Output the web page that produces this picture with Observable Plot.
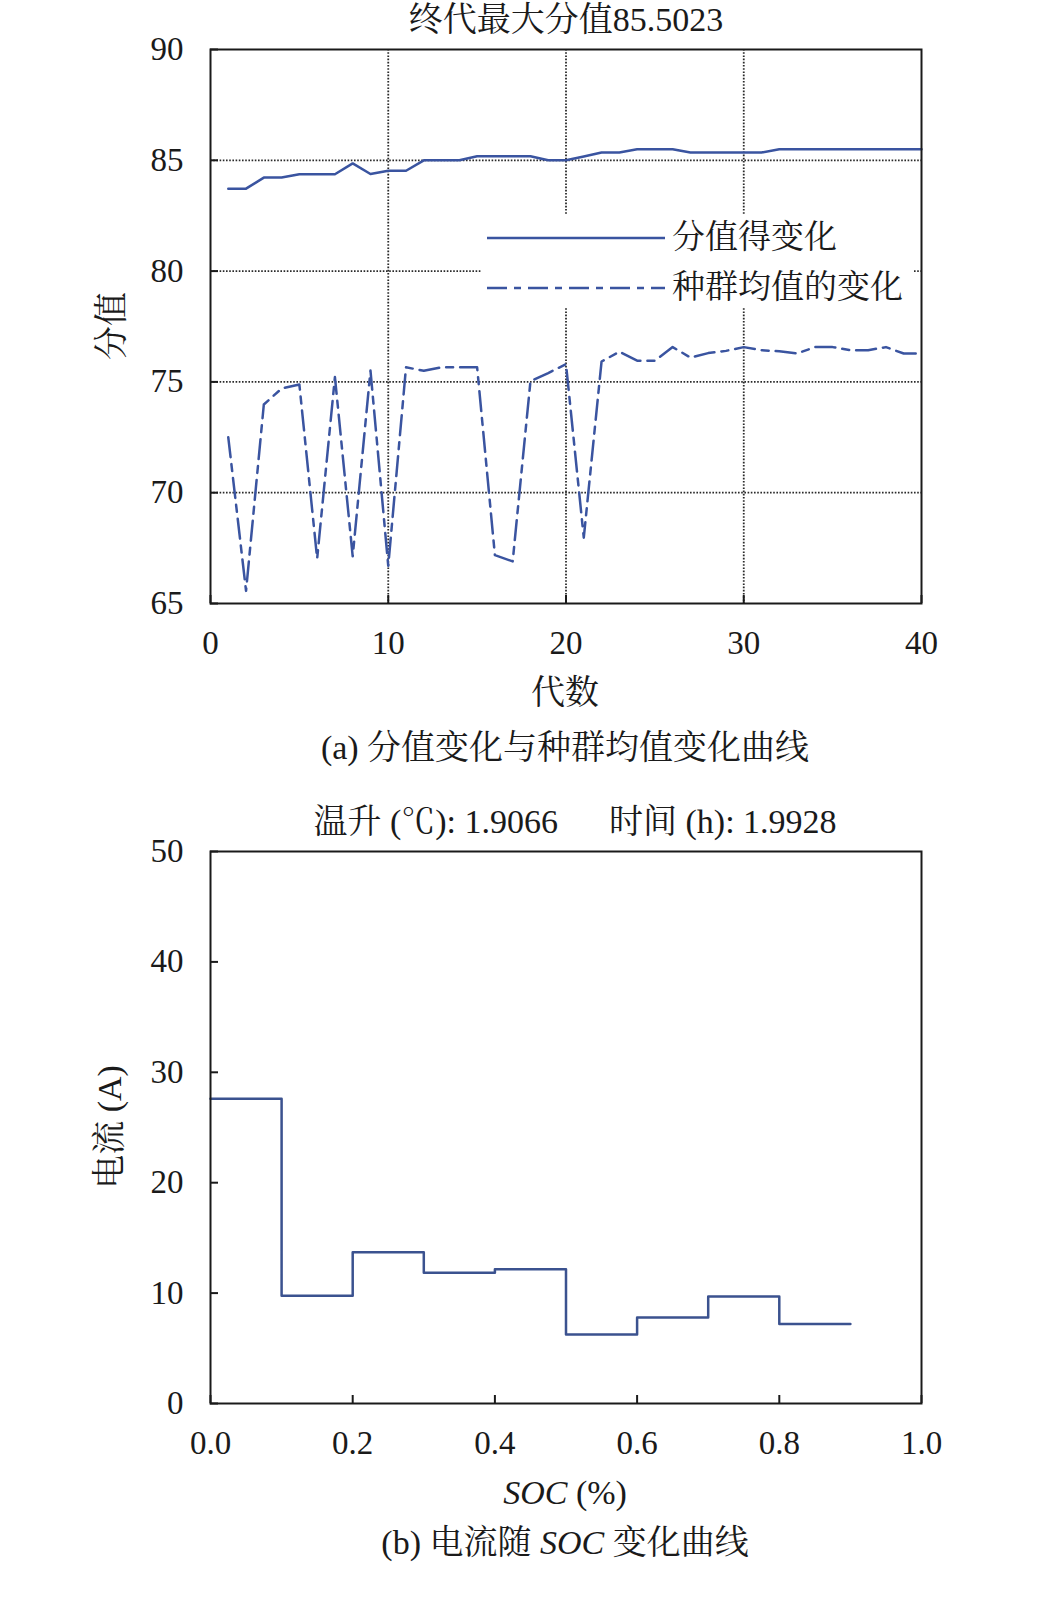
<!DOCTYPE html>
<html>
<head>
<meta charset="utf-8">
<script src="https://cdn.jsdelivr.net/npm/d3@7"></script>
<script src="https://cdn.jsdelivr.net/npm/@observablehq/plot@0.6"></script>
<style>
  html, body { margin: 0; padding: 0; background: white; }
  body { width: 1056px; height: 1600px; position: relative; overflow: hidden;
         font-family: "Liberation Serif", "Noto Serif CJK SC", "Noto Sans CJK SC", serif; color: #1a1a1a; }
  .t { position: absolute; white-space: nowrap; font-size: 34px; line-height: 1; transform: translate(-50%, -50%); }
  .rot { transform: translate(-50%, -50%) rotate(-90deg); }
  .chart { position: absolute; left: 0; }
  #legend { position: absolute; left: 482px; top: 215px; width: 431px; height: 92px; background: white; }
  #legend svg { position: absolute; left: 0; top: 0; }
  #legend .lt { position: absolute; font-size: 33px; line-height: 1; white-space: nowrap; transform: translateY(-50%); }
</style>
</head>
<body>
<div class="t" style="left:566px; top:20px;">终代最大分值85.5023</div>
<div id="c1" class="chart" style="top:0px;"></div>
<div class="t rot" style="left:112px; top:326px;">分值</div>
<div class="t" style="left:565px; top:693px;">代数</div>
<div class="t" style="left:565px; top:748px;">(a) 分值变化与种群均值变化曲线</div>

<div id="legend">
  <svg width="431" height="92">
    <line x1="5" y1="23" x2="183" y2="23" stroke="#3a54a0" stroke-width="2.5"/>
    <line x1="5" y1="73" x2="183" y2="73" stroke="#3a54a0" stroke-width="2.5" stroke-dasharray="20,7,7,7"/>
  </svg>
  <div class="lt" style="left:190px; top:22px;">分值得变化</div>
  <div class="lt" style="left:190px; top:72px;">种群均值的变化</div>
</div>

<div class="t" style="left:575px; top:822px;">温升 (℃): 1.9066&nbsp;&nbsp;&nbsp;&nbsp;&nbsp;&nbsp;时间 (h): 1.9928</div>
<div id="c2" class="chart" style="top:800px;"></div>
<div class="t rot" style="left:110px; top:1127px;">电流 (A)</div>
<div class="t" style="left:565px; top:1493px;"><i>SOC</i> (%)</div>
<div class="t" style="left:565px; top:1543px;">(b) 电流随 <i>SOC</i> 变化曲线</div>

<script>
// ---- Chart (a) data ----
const generations = d3.range(1, 41);
const bestScore = [83.72, 83.72, 84.22, 84.22, 84.37, 84.37, 84.37, 84.86, 84.38, 84.53,
                   84.53, 85.0, 85.0, 85.0, 85.18, 85.18, 85.18, 85.18, 85.0, 85.0,
                   85.17, 85.35, 85.35, 85.5, 85.5, 85.5, 85.35, 85.35, 85.35, 85.35,
                   85.35, 85.5023, 85.5023, 85.5023, 85.5023, 85.5023, 85.5023, 85.5023, 85.5023, 85.5023];
const meanScore = [72.5, 65.57, 73.98, 74.7, 74.88, 67.03, 75.22, 67.13, 75.51, 66.7,
                   75.66, 75.5, 75.66, 75.66, 75.66, 67.18, 66.9, 75.03, 75.4, 75.8,
                   67.97, 75.92, 76.36, 75.96, 75.96, 76.57, 76.1, 76.3, 76.4, 76.57,
                   76.43, 76.38, 76.28, 76.57, 76.57, 76.43, 76.43, 76.57, 76.28, 76.28];
const xTicksA = [0, 10, 20, 30, 40];
const yTicksA = [65, 70, 75, 80, 85, 90];
const xGridA = [10, 20, 30];
const yGridA = [70, 75, 80, 85];

// ---- Chart (b) data ----
const socEdges = [0, 0.1, 0.2, 0.3, 0.4, 0.5, 0.6, 0.7, 0.8, 0.9];
const current = [27.6, 9.75, 13.7, 11.85, 12.15, 6.25, 7.8, 9.7, 7.2];
const xTicksB = [0, 0.2, 0.4, 0.6, 0.8, 1.0];
const yTicksB = [0, 10, 20, 30, 40, 50];

const blue = "#3a54a0";
const font = "'Liberation Serif', 'Noto Serif CJK SC', 'Noto Sans CJK SC', serif";

const rowsA = generations.map((g, i) => ({g, best: bestScore[i], mean: meanScore[i]}));
const rowsB = socEdges.map((s, i) => ({s, c: current[Math.min(i, current.length - 1)]}));

const gridStyle = {stroke: "#2a2a2a", strokeOpacity: 1, strokeWidth: 1.8, strokeDasharray: "1.6,1.6"};

const chartA = Plot.plot({
  width: 1056, height: 720,
  marginTop: 49, marginBottom: 117, marginLeft: 210, marginRight: 135,
  style: {fontFamily: font, color: "#1a1a1a", background: "transparent", overflow: "visible"},
  x: {domain: [0, 40], label: null},
  y: {domain: [65, 90], label: null},
  marks: [
    Plot.gridY(yGridA, gridStyle),
    Plot.gridX(xGridA, gridStyle),
    Plot.line(rowsA, {x: "g", y: "best", stroke: blue, strokeWidth: 2.5}),
    Plot.line(rowsA, {x: "g", y: "mean", stroke: blue, strokeWidth: 2.5, strokeDasharray: "20,7,7,7"}),
    Plot.axisY({ticks: yTicksA, tickSize: -8, tickPadding: 35, fontSize: 33, strokeWidth: 2, label: null}),
    Plot.axisX({ticks: xTicksA, tickSize: -8, tickPadding: 35, fontSize: 33, strokeWidth: 2, label: null}),
    Plot.frame({stroke: "#1a1a1a", strokeWidth: 2})
  ]
});
document.getElementById("c1").appendChild(chartA);

const chartB = Plot.plot({
  width: 1056, height: 670,
  marginTop: 51, marginBottom: 67, marginLeft: 210, marginRight: 135,
  style: {fontFamily: font, color: "#1a1a1a", background: "transparent", overflow: "visible"},
  x: {domain: [0, 1], label: null},
  y: {domain: [0, 50], label: null},
  marks: [
    Plot.line(rowsB, {x: "s", y: "c", curve: "step-after", stroke: "#3b528f", strokeWidth: 2.5}),
    Plot.axisY({ticks: yTicksB, tickSize: -8, tickPadding: 35, fontSize: 33, strokeWidth: 2, label: null}),
    Plot.axisX({ticks: xTicksB, tickSize: -8, tickPadding: 35, fontSize: 33, strokeWidth: 2, tickFormat: d3.format(".1f"), label: null}),
    Plot.frame({stroke: "#1a1a1a", strokeWidth: 2})
  ]
});
document.getElementById("c2").appendChild(chartB);
</script>
</body>
</html>
